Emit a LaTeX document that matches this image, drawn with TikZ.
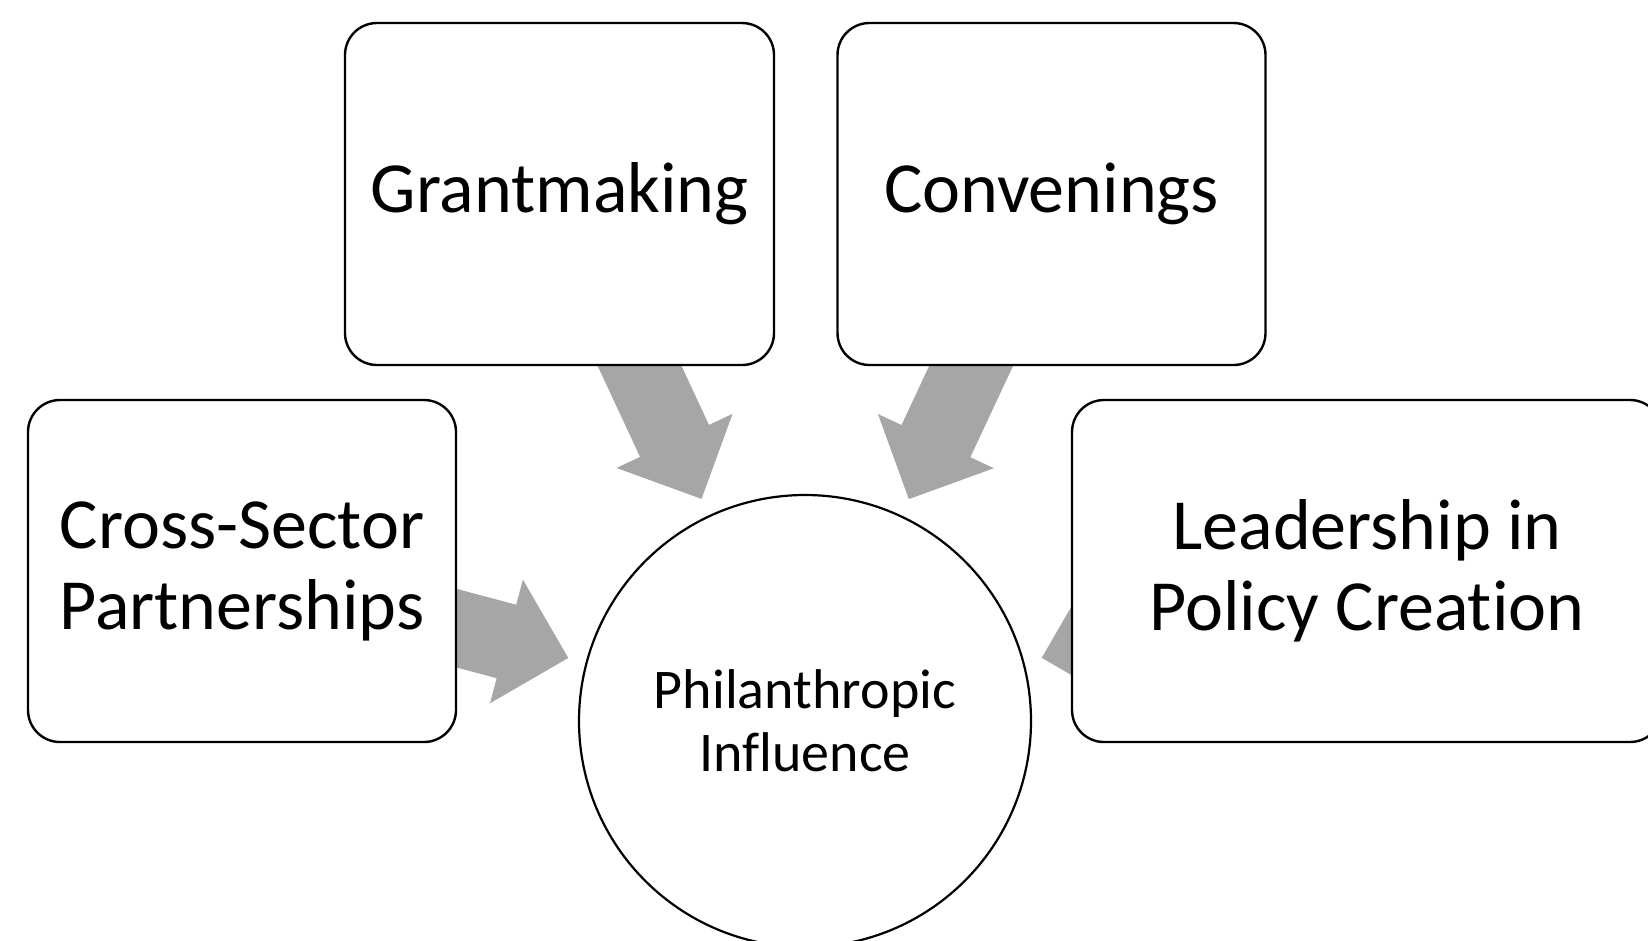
\documentclass[tikz,border=0pt]{standalone}
\usepackage{fontspec}
\setmainfont{Carlito}[Ligatures={NoCommon}]
\usetikzlibrary{calc}
\pgfdeclarelayer{bg}
\pgfsetlayers{bg,main}
\definecolor{arrowgray}{HTML}{A6A6A6}
\tikzset{
  box/.style={draw=black, line width=2.4pt, fill=white, rounded corners=32pt,
    minimum height=342pt, align=center, inner sep=0pt,
    font=\fontsize{72}{81}\selectfont},
  hub/.style={draw=black, line width=2.2pt, fill=white, circle, minimum size=452pt,
    align=center, inner sep=0pt, font=\fontsize{56}{63}\selectfont},
  blockfill/.style={fill=arrowgray, draw=none}
}
\newcommand\blkarrow[2]{%
  \coordinate (#1-t) at ($(#2.center)!245pt!(#1.center)$);
  \coordinate (#1-h) at ($(#1-t)!64pt!(#1.center)$);
  \fill[blockfill] ($(#1.center)!38pt!90:(#1-t)$) -- ($(#1-h)!38pt!90:(#1-t)$)
    -- ($(#1-h)!64pt!90:(#1-t)$) -- (#1-t) -- ($(#1-h)!64pt!-90:(#1-t)$)
    -- ($(#1-h)!38pt!-90:(#1-t)$) -- ($(#1.center)!38pt!-90:(#1-t)$) -- cycle;}
\begin{document}
\begin{tikzpicture}[x=1pt,y=-1pt]
\useasboundingbox (0,0) rectangle (1648,940);
\node[hub] (circ) at (805,721) {Philanthropic\\Influence};
\node[box, minimum width=429pt] (grant) at (559.5,194) {Grantmaking};
\node[box, minimum width=428pt] (conv) at (1051.5,194) {Convenings};
\node[box, minimum width=428pt] (cross) at (242,571) {Cross-Sector\\Partnerships};
\node[box, minimum width=590pt] (lead) at (1367,571) {Leadership in\\Policy Creation};
\begin{pgfonlayer}{bg}
\blkarrow{grant}{circ}
\blkarrow{conv}{circ}
\blkarrow{cross}{circ}
\blkarrow{lead}{circ}
\end{pgfonlayer}
\end{tikzpicture}
\end{document}
